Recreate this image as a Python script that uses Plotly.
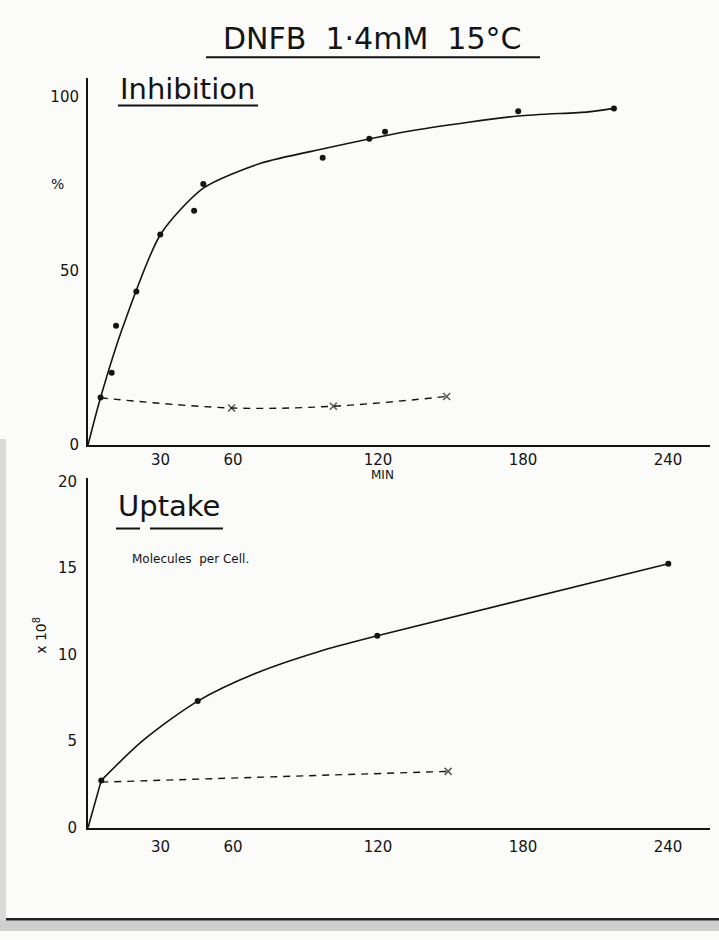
import plotly.graph_objects as go

W, H = 719, 940

# ---------------- data ----------------
# Inhibition (%) vs time (min)
inh_t = [5.2, 9.8, 11.6, 20.0, 29.9, 43.9, 47.7, 97.1, 116.4, 122.9, 178.0, 217.6]
inh_v = [13.6, 20.7, 34.2, 44.0, 60.4, 67.2, 74.9, 82.4, 87.9, 89.9, 95.8, 96.6]
# hand-drawn fitted curve
inh_fit_t = [0, 5.2, 14.6, 30.0, 47.7, 71.2, 97.4, 135.0, 178.0, 207.0, 217.6]
inh_fit_v = [0, 13.6, 34.2, 60.4, 73.7, 80.8, 85.0, 90.3, 94.4, 95.6, 96.6]
# control (dashed, x)
inh_ctl_t = [5.2, 59.4, 101.5, 148.4]
inh_ctl_v = [13.5, 10.6, 11.1, 13.9]

# Uptake (molecules per cell x 10^8)
upt_t = [5.5, 45.4, 119.7, 240.1]
upt_v = [2.73, 7.31, 11.08, 15.24]
upt_fit_t = [0, 5.5, 22.9, 45.4, 70.0, 95.0, 119.7, 240.1]
upt_fit_v = [0, 2.73, 5.05, 7.31, 8.95, 10.15, 11.08, 15.24]
upt_ctl_t = [5.5, 149.0]
upt_ctl_v = [2.63, 3.25]

x_ticks = [30, 60, 120, 180, 240]
inh_yticks = [0, 50, 100]
upt_yticks = [0, 5, 10, 15, 20]

# ---------------- layout helpers ----------------
INK = "#141414"
FONT = "DejaVu Sans"

def px(x):
    return x / W

def py(y):
    return 1 - y / H

x_dom = [px(88), px(710)]
x_rng = [0, (710 - 88) / 2.417]
top_dom = [py(446), py(73)]
top_rng = [0, (446 - 73) / 3.54]
bot_dom = [py(835), py(480)]
bot_rng = [0, (835 - 480) / 17.6]

fig = go.Figure()

line = dict(color=INK, width=1.6)
dash = dict(color=INK, width=1.4, dash="7px,6px")

# Top panel
fig.add_trace(go.Scatter(x=inh_fit_t, y=inh_fit_v, mode="lines", line=dict(shape="spline", smoothing=0.7, **line),
                         xaxis="x", yaxis="y", hoverinfo="skip"))
fig.add_trace(go.Scatter(x=inh_ctl_t, y=inh_ctl_v, mode="lines+markers",
                         line=dict(shape="spline", smoothing=1.0, **dash),
                         marker=dict(symbol="x-thin", size=[0, 7, 7, 7], line=dict(color=INK, width=1.5), color=INK),
                         xaxis="x", yaxis="y"))
fig.add_trace(go.Scatter(x=inh_t, y=inh_v, mode="markers", marker=dict(color=INK, size=6),
                         xaxis="x", yaxis="y"))

# Bottom panel
fig.add_trace(go.Scatter(x=upt_fit_t[:2], y=upt_fit_v[:2], mode="lines", line=line,
                         xaxis="x2", yaxis="y2"))
fig.add_trace(go.Scatter(x=upt_fit_t[1:], y=upt_fit_v[1:], mode="lines", line=dict(shape="spline", smoothing=0.8, **line),
                         xaxis="x2", yaxis="y2"))
fig.add_trace(go.Scatter(x=upt_ctl_t, y=upt_ctl_v, mode="lines+markers", line=dash,
                         marker=dict(symbol="x-thin", size=[0, 7], line=dict(color=INK, width=1.5), color=INK),
                         xaxis="x2", yaxis="y2"))
fig.add_trace(go.Scatter(x=upt_t, y=upt_v, mode="markers", marker=dict(color=INK, size=6),
                         xaxis="x2", yaxis="y2"))

axis_common = dict(showline=True, linecolor=INK, linewidth=2, showgrid=False, zeroline=False,
                   ticks="", tickfont=dict(family=FONT, size=15, color=INK), fixedrange=True)

fig.update_layout(
    width=W, height=H, margin=dict(l=0, r=0, t=0, b=0),
    paper_bgcolor="#fbfbfa", plot_bgcolor="rgba(0,0,0,0)",
    showlegend=False,
    xaxis=dict(domain=x_dom, range=x_rng, anchor="y", tickvals=x_ticks, ticklabelstandoff=0, **axis_common),
    yaxis=dict(domain=top_dom, range=top_rng, anchor="x", tickvals=inh_yticks, ticklabelstandoff=4, **axis_common),
    xaxis2=dict(domain=x_dom, range=x_rng, anchor="y2", tickvals=x_ticks, ticklabelstandoff=4, **axis_common),
    yaxis2=dict(domain=bot_dom, range=bot_rng, anchor="x2", tickvals=upt_yticks, ticklabelstandoff=6, **axis_common),
)

def ann(text, x, y, size, xanchor="center", angle=0):
    fig.add_annotation(text=text, x=px(x), y=py(y), xref="paper", yref="paper",
                       xanchor=xanchor, yanchor="middle", showarrow=False, textangle=angle,
                       font=dict(family=FONT, size=size, color=INK))

ann("DNFB  1·4mM  15°C", 372, 33, 30)
ann("Inhibition", 118, 84, 29, xanchor="left")
ann("%", 57, 181, 14)
ann("MIN", 382, 477, 12)
ann("Uptake", 116, 508, 29, xanchor="left")
ann("Molecules  per Cell.", 130, 562, 12, xanchor="left")
ann("x 10<sup>8</sup>", 40, 640, 14, angle=-90)

# underlines and scan edges (decoration)
shapes = [
    dict(type="line", xref="paper", yref="paper", x0=px(206), x1=px(540), y0=py(52), y1=py(52), line=dict(color=INK, width=2)),
    dict(type="line", xref="paper", yref="paper", x0=px(118), x1=px(258), y0=py(101), y1=py(101), line=dict(color=INK, width=2)),
    dict(type="line", xref="paper", yref="paper", x0=px(116), x1=px(140), y0=py(531), y1=py(531), line=dict(color=INK, width=2)),
    dict(type="line", xref="paper", yref="paper", x0=px(150), x1=px(223), y0=py(531), y1=py(531), line=dict(color=INK, width=2)),
    dict(type="rect", xref="paper", yref="paper", x0=0, x1=px(6), y0=0, y1=py(440), fillcolor="#dadada", line=dict(width=0), layer="below"),
    dict(type="rect", xref="paper", yref="paper", x0=0, x1=1, y0=0, y1=py(929), fillcolor="#cfcfcf", line=dict(width=0), layer="below"),
    dict(type="line", xref="paper", yref="paper", x0=px(6), x1=1, y0=py(928), y1=py(928), line=dict(color="#222", width=2.5)),
]
fig.update_layout(shapes=shapes)

fig.write_html("out.html")
